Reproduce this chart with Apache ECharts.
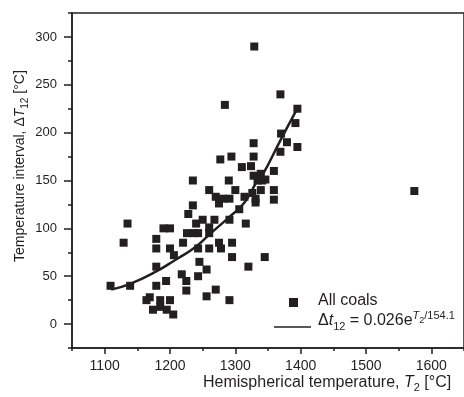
<!DOCTYPE html>
<html>
<head>
<meta charset="utf-8">
<script src="https://cdn.jsdelivr.net/npm/echarts@6/dist/echarts.min.js"></script>
<style>
html,body{margin:0;padding:0;background:#fff;}
#c{width:464px;height:397px;}
</style>
</head>
<body>
<div id="c"></div>
<script>
// Hemispherical temperature T2 [°C] and temperature interval ΔT12 [°C] for all coals
const coalT2 = [1109,1139,1135,1129,1179,1179,1179,1179,1190,1200,1200,1206,1194,1169,1164,1185,1200,1174,1185,1195,1205,
  1218,1225,1225,1220,1226,1236,1243,1228,1235,1240,1250,1235,1243,1245,1243,1256,1256,1260,1260,1260,1268,1270,1275,1278,
  1260,1270,1275,1281,1291,1284,1277,1294,1290,1291,1295,1295,1291,1300,1306,1310,1316,1320,1345,1314,1326,1331,1324,1328,
  1328,1328,1329,1339,1341,1334,1346,1339,1331,1359,1359,1359,1369,1369,1370,1379,1392,1395,1395,1574];
const coalDT = [40,40,105,85,89,79,60,40,100,100,79,72,45,28,25,25,25,15,18,15,10,
  52,45,35,85,95,95,95,115,124,105,109,150,79,65,50,57,29,79,95,101,109,36,85,79,
  140,133,126,131,131,229,172,175,150,109,85,70,25,140,120,164,105,60,70,133,137,127,165,155,
  175,189,290,157,150,150,151,140,131,160,140,130,180,240,199,190,210,225,185,139];
// Fitted curve Δt12 = 0.026 e^(T2/154.1)
const fitT2 = [1110,1139,1179,1208,1238,1261,1291,1314,1334,1341,1369,1394];
const fitDT = [36,42,55,67,80,94,112,127,150,155,192,224];
// Tick labels
const xTicks = [1100,1200,1300,1400,1500,1600];
const xMinor = [1050,1150,1250,1350,1450,1550,1650];
const yTicks = [0,50,100,150,200,250,300];
const yMinor = [-25,25,75,125,175,225,275,325];

const INK = '#231f20';
const FONT = 'Liberation Sans, Arial, sans-serif';
const chart = echarts.init(document.getElementById('c'), null, {renderer:'canvas'});

const scatterData = coalT2.map((t,i)=>[t, coalDT[i]]);
const fitData = fitT2.map((t,i)=>[t, fitDT[i]]);
const plain = v => String(v);

chart.setOption({
  backgroundColor:'#fff',
  animation:false,
  grid:{left:72, top:13, right:-6, bottom:49, show:true, borderColor:INK, borderWidth:1.5, backgroundColor:'transparent'},
  xAxis:[{
    type:'value', min:1050, max:1650,
    axisLine:{show:true, onZero:false, lineStyle:{color:INK, width:1.5}},
    axisTick:{show:true, inside:false, length:6, customValues:xTicks, lineStyle:{color:INK, width:1.5}},
    axisLabel:{customValues:xTicks, formatter:plain, color:INK, fontSize:14, fontFamily:FONT, margin:11},
    splitLine:{show:false}
  },{
    type:'value', min:1050, max:1650, position:'bottom',
    axisLine:{show:false, onZero:false},
    axisTick:{show:true, inside:false, length:3, customValues:xMinor, lineStyle:{color:INK, width:1.5}},
    axisLabel:{show:false},
    splitLine:{show:false}
  }],
  yAxis:[{
    type:'value', min:-25, max:325,
    axisLine:{show:true, onZero:false, lineStyle:{color:INK, width:1.5}},
    axisTick:{show:true, inside:false, length:8, customValues:yTicks, lineStyle:{color:INK, width:1.5}},
    axisLabel:{customValues:yTicks, formatter:plain, color:INK, fontSize:13, fontFamily:FONT, margin:15},
    splitLine:{show:false}
  },{
    type:'value', min:-25, max:325, position:'left',
    axisLine:{show:false, onZero:false},
    axisTick:{show:true, inside:false, length:4, customValues:yMinor, lineStyle:{color:INK, width:1.5}},
    axisLabel:{show:false},
    splitLine:{show:false}
  }],
  series:[{
    type:'scatter', xAxisIndex:0, yAxisIndex:0,
    symbol:'rect', symbolSize:8,
    itemStyle:{color:INK, opacity:1},
    data:scatterData
  },{
    type:'line', xAxisIndex:0, yAxisIndex:0,
    smooth:true, showSymbol:false,
    lineStyle:{color:INK, width:2.5},
    data:fitData
  }],
  graphic:[
    {type:'text', left:203, top:375, style:{
      text:'Hemispherical temperature, {i|T}{s|2} [°C]',
      fill:INK, font:'16px '+FONT,
      rich:{i:{fontStyle:'italic', fontSize:16, fontFamily:FONT, fill:INK, lineHeight:20},
            s:{fontSize:11, fontFamily:FONT, fill:INK, verticalAlign:'bottom', lineHeight:11}}
    }},
    {type:'text', x:11, y:262, rotation:Math.PI/2, style:{
      text:'Temperature interval, Δ{i|T}{s|12} [°C]',
      fill:INK, font:'14px '+FONT,
      rich:{i:{fontStyle:'italic', fontSize:14, fontFamily:FONT, fill:INK, lineHeight:19},
            s:{fontSize:10, fontFamily:FONT, fill:INK, verticalAlign:'bottom', lineHeight:10}}
    }},
    {type:'rect', shape:{x:289, y:298, width:9, height:9}, style:{fill:INK}},
    {type:'text', left:318, top:293, style:{text:'All coals', fill:INK, font:'16px '+FONT}},
    {type:'line', shape:{x1:274, y1:327, x2:311, y2:327}, style:{stroke:INK, lineWidth:1.5}},
    {type:'text', left:318, top:310, style:{
      text:'Δ{i|t}{s|12} = 0.026e{si|T}{ss|2}{su|/154.1}',
      fill:INK, font:'16px '+FONT,
      rich:{i:{fontStyle:'italic', fontSize:16, fontFamily:FONT, fill:INK, lineHeight:22},
            s:{fontSize:11, fontFamily:FONT, fill:INK, verticalAlign:'bottom', lineHeight:11},
            si:{fontStyle:'italic', fontSize:11, fontFamily:FONT, fill:INK, verticalAlign:'top', lineHeight:11},
            ss:{fontSize:9, fontFamily:FONT, fill:INK, verticalAlign:'top', padding:[6,0,0,0], lineHeight:11},
            su:{fontSize:11, fontFamily:FONT, fill:INK, verticalAlign:'top', lineHeight:11}}
    }}
  ]
});
</script>
</body>
</html>
